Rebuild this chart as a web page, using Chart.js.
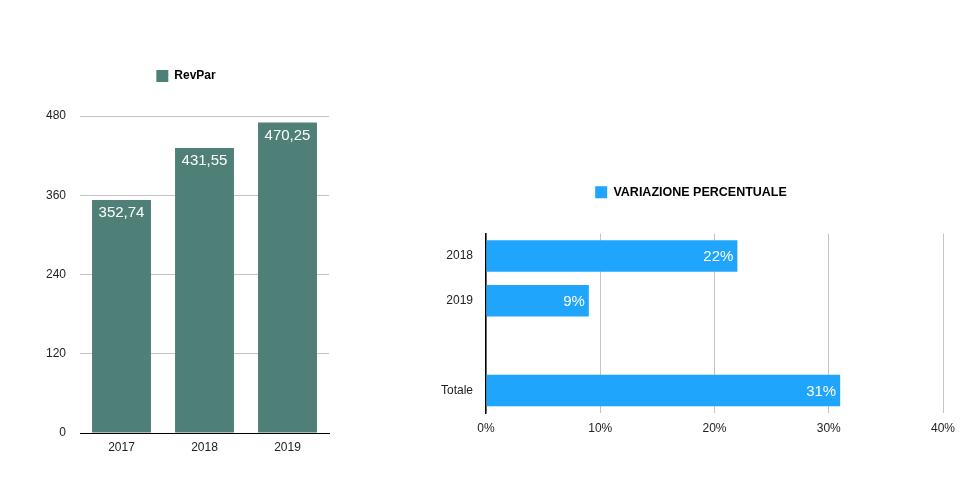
<!DOCTYPE html>
<html>
<head>
<meta charset="utf-8">
<script src="https://cdn.jsdelivr.net/npm/chart.js@4"></script>
<style>
  html, body { margin: 0; padding: 0; background: #fff; }
  body { width: 961px; height: 478px; position: relative; overflow: hidden; }
  .box { position: absolute; top: 0; height: 478px; }
  #left { left: 0; width: 372px; }
  #right { left: 400px; width: 561px; }
</style>
</head>
<body>
<div class="box" id="left"><canvas id="c1"></canvas></div>
<div class="box" id="right"><canvas id="c2"></canvas></div>
<script>
// ---- data ----
const revparYears = ['2017', '2018', '2019'];
const revparValues = [352.74, 431.55, 470.25];
const revparTicks = [0, 120, 240, 360, 480];

const variationCategories = ['2018', '2019', '', 'Totale'];
const variationValues = [22, 9, null, 31];
const variationTicks = [0, 10, 20, 30, 40];

const FONT = '"Liberation Sans", Arial, Helvetica, sans-serif';
Chart.defaults.font.family = FONT;
Chart.defaults.color = '#222';
Chart.defaults.animation = false;

const fmtComma = v => v.toFixed(2).replace('.', ',');

function labelPlugin(horizontal, fmt) {
  return {
    id: 'valueLabels',
    afterDatasetsDraw(chart) {
      const ctx = chart.ctx;
      const meta = chart.getDatasetMeta(0);
      const data = chart.data.datasets[0].data;
      ctx.save();
      ctx.fillStyle = '#ffffff';
      ctx.font = '15px ' + FONT;
      meta.data.forEach((bar, i) => {
        const v = data[i];
        if (v === null || v === undefined) return;
        if (horizontal) {
          ctx.textAlign = 'right';
          ctx.textBaseline = 'middle';
          ctx.fillText(fmt(v), bar.x - 4, bar.y + 1);
        } else {
          ctx.textAlign = 'center';
          ctx.textBaseline = 'middle';
          ctx.fillText(fmt(v), bar.x, bar.y + 13);
        }
      });
      ctx.restore();
    }
  };
}

function legendOpts(size) {
  return {
    display: true,
    position: 'top',
    labels: {
      boxWidth: 12, boxHeight: 12, padding: 10,
      color: '#000',
      font: { size: size, weight: 'bold', family: FONT }
    }
  };
}

// ---- left chart ----
new Chart(document.getElementById('c1'), {
  type: 'bar',
  data: {
    labels: revparYears,
    datasets: [{
      label: 'RevPar',
      data: revparValues,
      backgroundColor: '#4e8077',
      borderWidth: 0,
      barPercentage: 0.71,
      categoryPercentage: 1.0
    }]
  },
  options: {
    responsive: true,
    maintainAspectRatio: false,
    layout: { padding: { top: 60, left: 43, right: 43, bottom: 15 } },
    plugins: {
      legend: legendOpts(12),
      title: { display: true, text: '', weight: 0, position: 'top', padding: 0, font: { size: 24, lineHeight: 1 } },
      tooltip: { enabled: false }
    },
    scales: {
      x: {
        grid: { display: false, drawTicks: false },
        border: { display: true, color: '#000', width: 1 },
        ticks: { padding: 7, font: { size: 12 }, color: '#222' },
        afterFit(s) { s.height = 30; }
      },
      y: {
        min: 0, max: 480,
        afterBuildTicks(s) { s.ticks = revparTicks.map(v => ({ value: v })); },
        grid: { color: '#c4c4c4', lineWidth: 1, drawTicks: false },
        border: { display: false },
        ticks: { padding: 14, font: { size: 12 }, color: '#222' },
        afterFit(s) { s.width = 37; }
      }
    }
  },
  plugins: [labelPlugin(false, fmtComma)]
});

// ---- right chart ----
new Chart(document.getElementById('c2'), {
  type: 'bar',
  data: {
    labels: variationCategories,
    datasets: [{
      label: 'VARIAZIONE PERCENTUALE',
      data: variationValues,
      backgroundColor: '#1fa5fb',
      borderWidth: 0,
      barPercentage: 0.7,
      categoryPercentage: 1.0
    }]
  },
  options: {
    indexAxis: 'y',
    responsive: true,
    maintainAspectRatio: false,
    layout: { padding: { top: 176, left: 39, right: 18, bottom: 35 } },
    plugins: {
      legend: legendOpts(12.5),
      title: { display: true, text: '', weight: 0, position: 'top', padding: 0, font: { size: 25, lineHeight: 1 } },
      tooltip: { enabled: false }
    },
    scales: {
      x: {
        min: 0, max: 40,
        afterBuildTicks(s) { s.ticks = variationTicks.map(v => ({ value: v })); },
        grid: { color: '#c4c4c4', lineWidth: 1, drawTicks: false },
        border: { display: false },
        ticks: { padding: 8, font: { size: 12 }, color: '#222', callback: v => v + '%' },
        afterFit(s) { s.height = 30; s.paddingLeft = 0; s.paddingRight = 0; }
      },
      y: {
        grid: { display: false, drawTicks: false },
        border: { display: true, color: '#000', width: 1.5 },
        ticks: { padding: 13, font: { size: 12 }, color: '#222' },
        afterFit(s) { s.width = 47; }
      }
    }
  },
  plugins: [labelPlugin(true, v => v + '%')]
});
</script>
</body>
</html>
